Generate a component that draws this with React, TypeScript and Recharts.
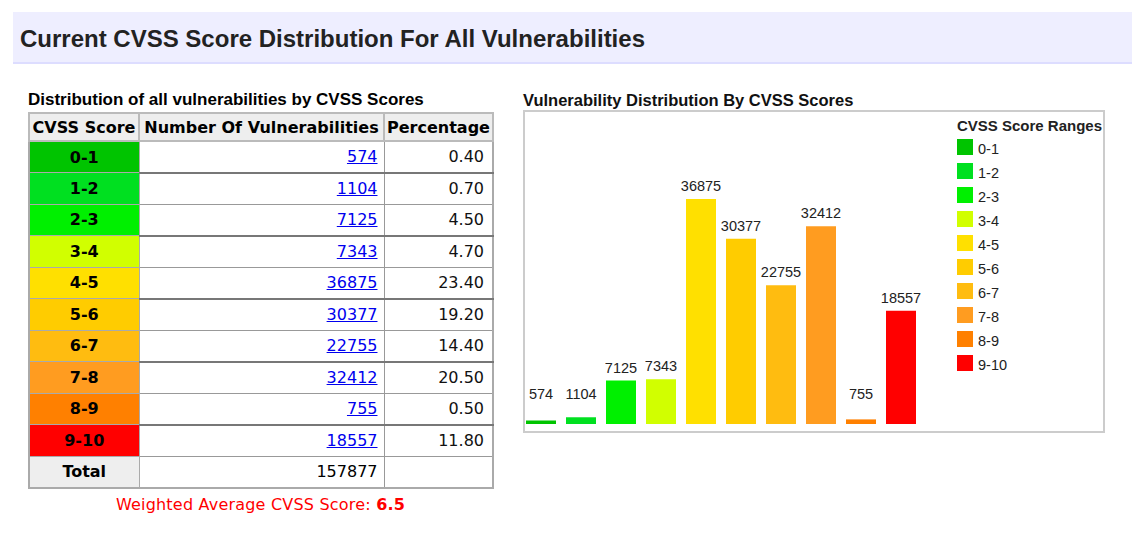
import { BarChart, Bar, XAxis, YAxis, Cell, LabelList, Legend } from 'recharts';

const ranges = ['0-1', '1-2', '2-3', '3-4', '4-5', '5-6', '6-7', '7-8', '8-9', '9-10'];
const counts = [574, 1104, 7125, 7343, 36875, 30377, 22755, 32412, 755, 18557];
const percentages = ['0.40', '0.70', '4.50', '4.70', '23.40', '19.20', '14.40', '20.50', '0.50', '11.80'];
const colors = ['#00C400', '#00E020', '#00F000', '#D1FF00', '#FFE000', '#FFCC00', '#FFBC10', '#FF9C20', '#FF8000', '#FF0000'];
const total = 157877;
const weightedAvg = '6.5';

const chartData = ranges.map((r, i) => ({ range: r, count: counts[i] }));

const ARIAL = '"Liberation Sans", Arial, sans-serif';
const VERDANA = '"DejaVu Sans", Verdana, sans-serif';

const BarValueLabel = (props: any) => {
  const { x, y, width, height, value } = props;
  const base = y + height;
  // short bars keep their number a bit above the axis
  const ty = Math.min(y - 8, base - 25);
  return (
    <text x={x + width / 2} y={ty} textAnchor="middle" fontSize={14.5} fill="#222" fontFamily={ARIAL}>
      {value}
    </text>
  );
};

const RangeLegend = () => (
  <div style={{ fontFamily: ARIAL, color: '#222' }}>
    <div style={{ fontSize: 15, fontWeight: 'bold', lineHeight: '18px', height: 22 }}>CVSS Score Ranges</div>
    {ranges.map((r, i) => (
      <div key={r} style={{ display: 'flex', height: 24 }}>
        <div style={{ width: 16, height: 16, background: colors[i] }} />
        <div style={{ marginLeft: 5, fontSize: 14.5, lineHeight: '20px' }}>{r}</div>
      </div>
    ))}
  </div>
);

const cellBase = { border: '1px solid #999', padding: 0, overflow: 'visible', whiteSpace: 'nowrap' as const };

export default function App() {
  return (
    <div style={{ position: 'absolute', left: 0, top: 0, width: 1132, height: 538, background: '#fff', overflow: 'hidden' }}>
      {/* page heading */}
      <div
        style={{
          position: 'absolute', left: 13, top: 12, width: 1119, height: 50,
          background: '#EEEEFF', borderBottom: '2px solid #DDDDFF',
          display: 'flex', alignItems: 'center',
        }}
      >
        <span style={{ marginLeft: 7, marginTop: 3, fontFamily: ARIAL, fontWeight: 'bold', fontSize: 24, color: '#222' }}>
          Current CVSS Score Distribution For All Vulnerabilities
        </span>
      </div>

      {/* table */}
      <div style={{ position: 'absolute', left: 28, top: 90, fontFamily: ARIAL, fontWeight: 'bold', fontSize: 17, lineHeight: '20px', color: '#000' }}>
        Distribution of all vulnerabilities by CVSS Scores
      </div>
      <table
        style={{
          position: 'absolute', left: 28, top: 112, width: 464, borderCollapse: 'collapse', tableLayout: 'fixed',
          border: '2px solid #aaa', fontFamily: VERDANA, fontSize: 16, color: '#000',
        }}
      >
        <colgroup>
          <col style={{ width: 110 }} />
          <col style={{ width: 245 }} />
          <col style={{ width: 109 }} />
        </colgroup>
        <tbody>
          <tr style={{ height: 28 }}>
            <th style={{ ...cellBase, border: '2px solid #bbb', background: '#EEE', textAlign: 'center' }}>CVSS Score</th>
            <th style={{ ...cellBase, border: '2px solid #bbb', background: '#EEE', textAlign: 'center' }}>Number Of Vulnerabilities</th>
            <th style={{ ...cellBase, border: '2px solid #bbb', background: '#EEE', textAlign: 'center' }}>Percentage</th>
          </tr>
          {ranges.map((r, i) => {
            const heavy = i % 2 === 0 && i < ranges.length - 1;
            const bottom = heavy ? '2px solid #777' : '1px solid #999';
            return (
              <tr key={r} style={{ height: 31.5 }}>
                <td style={{ ...cellBase, borderColor: '#aaa', background: colors[i], textAlign: 'center', fontWeight: 'bold' }}>{r}</td>
                <td style={{ ...cellBase, borderBottom: bottom, textAlign: 'right', paddingRight: 6 }}>
                  <a href="#" style={{ color: '#0000EE', textDecoration: 'underline' }}>{counts[i]}</a>
                </td>
                <td style={{ ...cellBase, borderBottom: bottom, textAlign: 'right', paddingRight: 8, color: '#111' }}>{percentages[i]}</td>
              </tr>
            );
          })}
          <tr style={{ height: 31.5 }}>
            <td style={{ ...cellBase, borderColor: '#aaa', background: '#EEE', textAlign: 'center', fontWeight: 'bold' }}>Total</td>
            <td style={{ ...cellBase, textAlign: 'right', paddingRight: 6 }}>{total}</td>
            <td style={{ ...cellBase }} />
          </tr>
        </tbody>
      </table>
      <div style={{ position: 'absolute', left: 28, width: 465, top: 495, textAlign: 'center', fontFamily: VERDANA, fontSize: 16, letterSpacing: 0.2, color: '#FF0000' }}>
        Weighted Average CVSS Score: <b>{weightedAvg}</b>
      </div>

      {/* chart */}
      <div style={{ position: 'absolute', left: 523, top: 90, fontFamily: ARIAL, fontWeight: 'bold', fontSize: 16.5, lineHeight: '20px', color: '#111' }}>
        Vulnerability Distribution By CVSS Scores
      </div>
      <div style={{ position: 'absolute', left: 523, top: 110, width: 582, height: 323, boxSizing: 'border-box', border: '2px solid #ccc' }} />
      <div style={{ position: 'absolute', left: 515, top: 112 }}>
        <BarChart width={590} height={319} data={chartData} margin={{ top: 87, right: 184, bottom: 7, left: 6 }}>
          <XAxis dataKey="range" hide />
          <YAxis hide domain={[0, 'dataMax']} />
          <Legend
            layout="vertical"
            align="center"
            verticalAlign="middle"
            content={<RangeLegend />}
            wrapperStyle={{ left: 442, top: 5, width: 150, height: 270 }}
          />
          <Bar dataKey="count" barSize={30} isAnimationActive={false}>
            {chartData.map((d, i) => (
              <Cell key={d.range} fill={colors[i]} />
            ))}
            <LabelList dataKey="count" content={<BarValueLabel />} />
          </Bar>
        </BarChart>
      </div>
    </div>
  );
}
